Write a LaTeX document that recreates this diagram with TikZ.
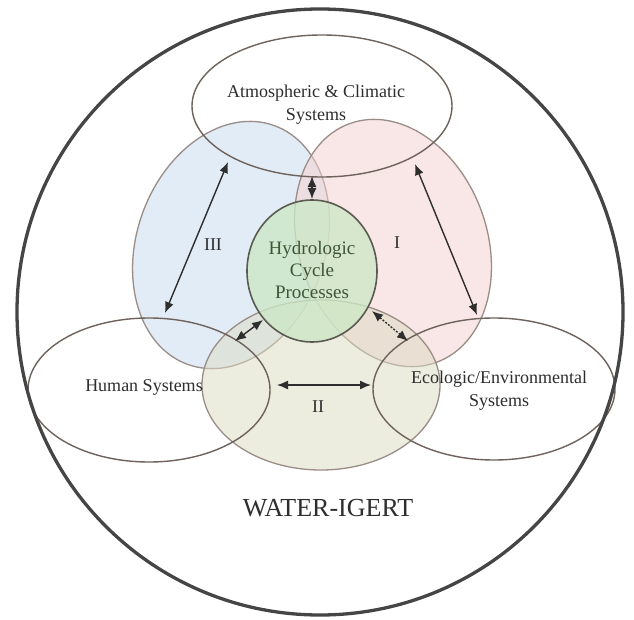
\documentclass[tikz,border=0pt]{standalone}
\usepackage{fontspec}
\setmainfont{Liberation Serif}
\usetikzlibrary{arrows.meta}
\definecolor{outerc}{HTML}{454545}
\definecolor{edgec}{HTML}{6E625C}
\definecolor{softedge}{HTML}{9A8C86}
\definecolor{bluef}{HTML}{C6DBF0}
\definecolor{pinkf}{HTML}{F5D0D0}
\definecolor{olivef}{HTML}{DCDCC2}
\definecolor{greenf}{HTML}{CDE8C6}
\definecolor{greenedge}{HTML}{5A5A50}
\definecolor{txt}{HTML}{2E2E2E}
\definecolor{greentxt}{HTML}{3E5636}
\begin{document}
\begin{tikzpicture}[x=1pt,y=-1pt,
  petal/.style={draw=softedge,line width=1.3pt,fill opacity=0.52},
  system/.style={draw=edgec,line width=1.4pt},
  lbl/.style={text=txt,font=\fontsize{18}{23}\selectfont,align=center,inner sep=0pt},
  link/.style={draw=txt,line width=1.4pt,{Latex[length=11pt,width=9pt]}-{Latex[length=11pt,width=9pt]}}]
\useasboundingbox (0,0) rectangle (634,620);
\fill[white] (0,0) rectangle (634,620);
% petals
\path[petal,fill=bluef,rotate around={-20:(231,245)}] (231,245) ellipse [x radius=94pt,y radius=127pt];
\path[petal,fill=pinkf,rotate around={20:(393,243)}] (393,243) ellipse [x radius=94pt,y radius=127pt];
\path[petal,fill=olivef] (321,385) ellipse [x radius=119pt,y radius=85pt];
% hydrologic core
\path[draw=greenedge,line width=1.6pt,fill=greenf,fill opacity=0.78] (312,271) ellipse [x radius=65pt,y radius=71pt];
% systems
\draw[system] (322,106) ellipse [x radius=130pt,y radius=71pt];
\draw[system] (149,390) ellipse [x radius=121pt,y radius=72pt];
\draw[system] (494,389) ellipse [x radius=121pt,y radius=71pt];
% outer boundary
\draw[outerc,line width=3.3pt] (320,312) circle [radius=303pt];
% arrow end points
\coordinate (tA) at (312,176);
\coordinate (tB) at (312,199);
\coordinate (lA) at (228,162);
\coordinate (lB) at (165,313);
\coordinate (rA) at (415,164);
\coordinate (rB) at (477,315);
\coordinate (llA) at (235,341);
\coordinate (llB) at (263,320);
\coordinate (lrA) at (372,311);
\coordinate (lrB) at (408,341);
\coordinate (bA) at (277,385);
\coordinate (bB) at (371,385);
\draw[link] (tA) -- (tB);
\draw[link] (lA) -- (lB);
\draw[link] (rA) -- (rB);
\draw[link] (llA) -- (llB);
\draw[link,dash pattern=on 2pt off 1.5pt] (lrA) -- (lrB);
\draw[link] (bA) -- (bB);
% labels
\node[lbl] (atm) at (316,105) {Atmospheric \& Climatic\\Systems};
\node[lbl,text=greentxt,font=\fontsize{19}{22}\selectfont] (hyd) at (312,270) {Hydrologic\\Cycle\\Processes};
\node[lbl] (hum) at (144,387) {Human Systems};
\node[lbl] (eco) at (499,391) {Ecologic/Environmental\\Systems};
\node[lbl] (r3) at (213,245) {III};
\node[lbl] (r1) at (397,243) {I};
\node[lbl] (r2) at (318,407) {II};
\node[lbl,font=\fontsize{26}{30}\selectfont] (wi) at (328,508) {WATER-IGERT};
\end{tikzpicture}
\end{document}
